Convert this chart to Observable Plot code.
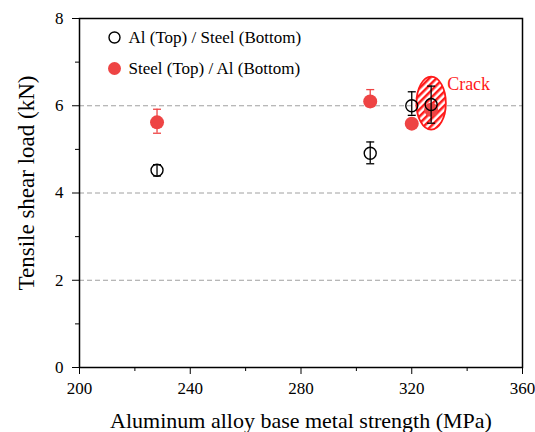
<!DOCTYPE html>
<html>
<head>
<meta charset="utf-8">
<script src="https://cdn.jsdelivr.net/npm/d3@7"></script>
<script src="https://cdn.jsdelivr.net/npm/@observablehq/plot@0.6"></script>
<style>
  html, body { margin: 0; padding: 0; background: white; }
</style>
</head>
<body>
<div id="chart"></div>
<script>
// ---- data ----
const xTicks = [200, 240, 280, 320, 360];
const xMinorTicks = [220, 260, 300, 340];
const yTicks = [0, 2, 4, 6, 8];
const yMinorTicks = [1, 3, 5, 7];
const gridY = [2, 4, 6];

const seriesNames = ["Al (Top) / Steel (Bottom)", "Steel (Top) / Al (Bottom)"];

// Al (Top) / Steel (Bottom) — open circles
const alX = [228, 305, 320, 327];
const alY = [4.52, 4.91, 6.0, 6.03];
const alLo = [4.39, 4.67, 5.78, 5.6];
const alHi = [4.65, 5.17, 6.32, 6.45];

// Steel (Top) / Al (Bottom) — red filled circles
const stX = [228, 305, 320, 327];
const stY = [5.62, 6.1, 5.59, 5.91];
const stLo = [5.37, 5.98, 5.52, 5.84];
const stHi = [5.92, 6.37, 5.66, 5.98];

// crack annotation
const crackX = [327];
const crackY = [6.06];
const crackLabel = ["Crack"];

// ---- tables ----
const al = alX.map((x, i) => ({x, y: alY[i], lo: alLo[i], hi: alHi[i]}));
const st = stX.map((x, i) => ({x, y: stY[i], lo: stLo[i], hi: stHi[i]}));
const crack = crackX.map((x, i) => ({x, y: crackY[i], label: crackLabel[i]}));

const RED = "#ee4444";
const CRACK_RED = "#ff1a1a";
const FONT = "'Liberation Serif', 'Times New Roman', serif";

// horizontal cap symbol for error bars
const capSymbol = {
  draw(ctx, size) {
    const w = Math.sqrt(size / Math.PI);
    ctx.moveTo(-w, 0);
    ctx.lineTo(w, 0);
  }
};
// upright ellipse symbol for the crack marker
const ellipseSymbol = {
  draw(ctx) {
    const rx = 14.7, ry = 26.5, k = 0.5523;
    ctx.moveTo(rx, 0);
    ctx.bezierCurveTo(rx, ry * k, rx * k, ry, 0, ry);
    ctx.bezierCurveTo(-rx * k, ry, -rx, ry * k, -rx, 0);
    ctx.bezierCurveTo(-rx, -ry * k, -rx * k, -ry, 0, -ry);
    ctx.bezierCurveTo(rx * k, -ry, rx, -ry * k, rx, 0);
    ctx.closePath();
  }
};

const svg = Plot.plot({
  width: 535,
  height: 432,
  marginLeft: 79,
  marginRight: 13,
  marginTop: 18,
  marginBottom: 65,
  x: {domain: [200, 360], label: null},
  y: {domain: [0, 8], label: null},
  style: {fontFamily: FONT, fontSize: "17px", color: "black", background: "white"},
  marks: [
    Plot.ruleY(gridY, {stroke: "#a0a0a0", strokeDasharray: "5,3", strokeWidth: 1}),
    Plot.axisX({ticks: xTicks, tickSize: 7, tickPadding: 7, label: null, tickFormat: d => String(d), fontSize: 17, stroke: "black"}),
    Plot.axisX({ticks: xMinorTicks, tickSize: 4, label: null, tickFormat: () => "", stroke: "black"}),
    Plot.axisY({ticks: yTicks, tickSize: 7, tickPadding: 9, label: null, tickFormat: d => String(d), fontSize: 17, stroke: "black"}),
    Plot.axisY({ticks: yMinorTicks, tickSize: 4, label: null, tickFormat: () => "", stroke: "black"}),
    Plot.frame({stroke: "black", strokeWidth: 1.5}),

    // crack ellipse (hatched)
    Plot.dot(crack, {x: "x", y: "y", symbol: ellipseSymbol, r: 10, fill: "url(#crackHatch)", stroke: CRACK_RED, strokeWidth: 1.8}),
    Plot.text(crack, {x: "x", y: "y", text: "label", dx: 16, dy: -19, textAnchor: "start", fill: CRACK_RED, fontSize: 18, fontFamily: FONT}),

    // Steel (Top) / Al (Bottom)
    Plot.ruleX(st, {x: "x", y1: "lo", y2: "hi", stroke: RED, strokeWidth: 1.3}),
    Plot.dot(st, {x: "x", y: "hi", symbol: capSymbol, r: 4, stroke: RED, strokeWidth: 1.3}),
    Plot.dot(st, {x: "x", y: "lo", symbol: capSymbol, r: 4, stroke: RED, strokeWidth: 1.3}),
    Plot.dot(st, {x: "x", y: "y", r: 7, fill: RED, stroke: "none"}),

    // Al (Top) / Steel (Bottom)
    Plot.ruleX(al, {x: "x", y1: "lo", y2: "hi", stroke: "black", strokeWidth: 1.3}),
    Plot.dot(al, {x: "x", y: "hi", symbol: capSymbol, r: 4, stroke: "black", strokeWidth: 1.3}),
    Plot.dot(al, {x: "x", y: "lo", symbol: capSymbol, r: 4, stroke: "black", strokeWidth: 1.3}),
    Plot.dot(al, {x: "x", y: "y", r: 6, fill: "none", stroke: "black", strokeWidth: 1.4}),

    // legend
    Plot.dot([seriesNames[0]], {frameAnchor: "top-left", dx: 35, dy: 19, r: 5.5, fill: "white", stroke: "black", strokeWidth: 1.4}),
    Plot.text([seriesNames[0]], {frameAnchor: "top-left", dx: 49, dy: 19, text: d => d, textAnchor: "start", lineAnchor: "middle", fontSize: 17, fontFamily: FONT, fill: "black"}),
    Plot.dot([seriesNames[1]], {frameAnchor: "top-left", dx: 35, dy: 50, r: 6.5, fill: RED, stroke: "none"}),
    Plot.text([seriesNames[1]], {frameAnchor: "top-left", dx: 49, dy: 50, text: d => d, textAnchor: "start", lineAnchor: "middle", fontSize: 17, fontFamily: FONT, fill: "black"}),

    // axis titles
    Plot.text(["Aluminum alloy base metal strength (MPa)"], {frameAnchor: "bottom", dy: 45, text: d => d, textAnchor: "middle", lineAnchor: "top", fontSize: 22, fontFamily: FONT, fill: "black"}),
    Plot.text(["Tensile shear load (kN)"], {frameAnchor: "left", dx: -53, dy: -10, rotate: -90, text: d => d, textAnchor: "middle", lineAnchor: "middle", fontSize: 23, fontFamily: FONT, fill: "black"})
  ]
});

svg.insertAdjacentHTML("afterbegin",
  `<defs><pattern id="crackHatch" patternUnits="userSpaceOnUse" width="5" height="5" patternTransform="rotate(45)">` +
  `<rect width="5" height="5" fill="white"/><rect width="2.5" height="5" fill="${CRACK_RED}"/></pattern></defs>`);

document.getElementById("chart").appendChild(svg);
</script>
</body>
</html>
